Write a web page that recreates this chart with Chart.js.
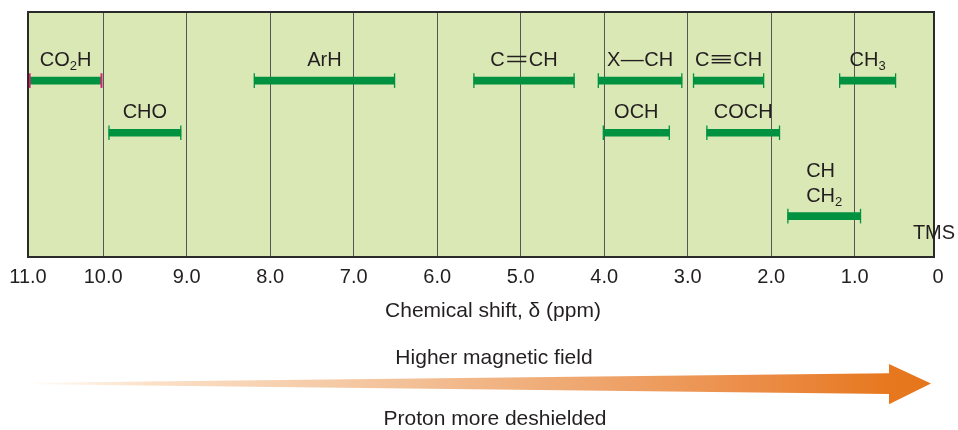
<!DOCTYPE html>
<html>
<head>
<meta charset="utf-8">
<title>Proton chemical shift ranges</title>
<script src="https://cdn.jsdelivr.net/npm/chart.js@4.4.1/dist/chart.umd.min.js"></script>
<style>
  html, body { margin: 0; padding: 0; background: #fff; }
  #wrap { width: 958px; height: 430px; position: relative; }
</style>
</head>
<body>
<div id="wrap"><canvas id="myChart"></canvas></div>
<script>
// proton groups and their shift ranges (ppm), "_" marks a subscript digit
const groups = ['CO_2H', 'CHO', 'ArH', 'C=CH', 'X—CH', 'C≡CH', 'CH_3', 'OCH', 'COCH', 'CH\nCH_2'];
const shiftFrom = [10.88, 9.93, 8.19, 5.56, 4.07, 2.93, 1.18, 4.01, 2.77, 1.80];
const shiftTo = [10.02, 9.07, 6.51, 4.36, 3.07, 2.09, 0.51, 3.22, 1.90, 0.93];
// vertical level of each bar (0 = top of plot, 10 = bottom)
const rowLevel = [2.8, 4.93, 2.8, 2.8, 2.8, 2.8, 2.8, 4.93, 4.93, 8.33];

// x axis, listed left to right
const axisMin = 0.05;
const axisMax = 10.9;
const tickValues = [10.9, 10, 9, 8, 7, 6, 5, 4, 3, 2, 1, 0];
const tickLabels = ['11.0', '10.0', '9.0', '8.0', '7.0', '6.0', '5.0', '4.0', '3.0', '2.0', '1.0', '0'];

const axisTitle = 'Chemical shift, δ (ppm)';
const fieldText = 'Higher magnetic field';
const shieldText = 'Proton more deshielded';
const refLabel = 'TMS';

const FAMILY = '"Liberation Sans", Arial, Helvetica, sans-serif';
const TEXT = '#231f20';
const BAR_GREEN = '#009241';
const CAP_PINK = '#d8216f';
const PLOT_BG = '#dae8b5';
const BONDS = ['=', '—', '≡'];

// split a formula into plain / subscript / bond pieces
function pieces(line) {
  const out = [];
  for (let i = 0; i < line.length; i++) {
    const ch = line[i];
    if (ch === '_') out.push({ t: line[++i], kind: 'sub' });
    else if (BONDS.includes(ch)) out.push({ t: ch, kind: 'bond' });
    else out.push({ t: ch, kind: 'plain' });
  }
  return out;
}

const mainFont = '20px ' + FAMILY;
const subFont = '13px ' + FAMILY;
const bondSlot = 24;
const bondLen = 23;

function pieceWidth(ctx, p) {
  if (p.kind === 'bond') return bondSlot;
  ctx.font = p.kind === 'sub' ? subFont : mainFont;
  return ctx.measureText(p.t).width;
}

function paintLine(ctx, line, left, baseline) {
  let x = left;
  pieces(line).forEach(p => {
    const w = pieceWidth(ctx, p);
    if (p.kind === 'bond') {
      ctx.font = mainFont;
      const gw = ctx.measureText(p.t).width;
      ctx.save();
      ctx.translate(x + (bondSlot - bondLen) / 2, baseline);
      ctx.scale(bondLen / gw, 1);
      ctx.fillText(p.t, 0, 0);
      ctx.restore();
    } else {
      ctx.font = p.kind === 'sub' ? subFont : mainFont;
      ctx.fillText(p.t, x, p.kind === 'sub' ? baseline + 4 : baseline);
    }
    x += w;
  });
}

function drawFormula(ctx, text, cx, baseline) {
  const lines = text.split('\n');
  const widths = lines.map(l => pieces(l).reduce((s, p) => s + pieceWidth(ctx, p), 0));
  const left = cx - Math.max(...widths) / 2;
  lines.forEach((line, k) => {
    paintLine(ctx, line, left, baseline - (lines.length - 1 - k) * 25);
  });
}

// background, frame, labels and the arrow underneath
const decorations = {
  id: 'decorations',
  beforeDraw(chart) {
    const { ctx, chartArea: a } = chart;
    ctx.save();
    ctx.fillStyle = PLOT_BG;
    ctx.fillRect(a.left, a.top, a.right - a.left, a.bottom - a.top);
    ctx.restore();
  },
  afterDatasetsDraw(chart) {
    const { ctx, chartArea: a } = chart;
    const xs = chart.scales.x;
    const ys = chart.scales.y;
    ctx.save();
    ctx.strokeStyle = '#2a2a2a';
    ctx.lineWidth = 2;
    ctx.strokeRect(a.left, a.top, a.right - a.left, a.bottom - a.top);

    ctx.fillStyle = TEXT;
    ctx.textAlign = 'left';
    ctx.textBaseline = 'alphabetic';
    groups.forEach((g, i) => {
      const cx = (xs.getPixelForValue(shiftFrom[i]) + xs.getPixelForValue(shiftTo[i])) / 2;
      const cy = ys.getPixelForValue(rowLevel[i]);
      drawFormula(ctx, g, cx, cy - 14.5);
    });

    ctx.font = mainFont;
    ctx.textAlign = 'center';
    ctx.fillText(refLabel, xs.getPixelForValue(axisMin), 238.5);
    ctx.restore();
  },
  afterDraw(chart) {
    const { ctx } = chart;
    ctx.save();
    ctx.fillStyle = TEXT;
    ctx.textAlign = 'center';
    ctx.textBaseline = 'alphabetic';
    ctx.font = '21px ' + FAMILY;
    ctx.fillText(axisTitle, 493, 316.5);
    ctx.fillText(fieldText, 494, 364);
    ctx.fillText(shieldText, 495, 425);

    // tapered arrow, pale on the left, orange at the head
    const grad = ctx.createLinearGradient(35, 0, 931, 0);
    grad.addColorStop(0, '#fffcf7');
    grad.addColorStop(0.13, '#fbe0c6');
    grad.addColorStop(0.37, '#f4c6a0');
    grad.addColorStop(0.65, '#eea268');
    grad.addColorStop(0.81, '#eb8c46');
    grad.addColorStop(0.95, '#e7781f');
    grad.addColorStop(1, '#e6761c');
    ctx.fillStyle = grad;
    ctx.beginPath();
    ctx.moveTo(35, 382.8);
    ctx.lineTo(889, 373.3);
    ctx.lineTo(889, 364);
    ctx.lineTo(931, 383.5);
    ctx.lineTo(889, 404.3);
    ctx.lineTo(889, 394);
    ctx.lineTo(35, 384.2);
    ctx.closePath();
    ctx.fill();
    ctx.restore();
  }
};

const barData = groups.map((g, i) => ({ x: [shiftFrom[i], shiftTo[i]], y: rowLevel[i] }));
const capData = [];
groups.forEach((g, i) => {
  capData.push({ x: shiftFrom[i], y: rowLevel[i], g: i });
  capData.push({ x: shiftTo[i], y: rowLevel[i], g: i });
});
const isAcid = c => c.raw && groups[c.raw.g] === 'CO_2H';

const ctx = document.getElementById('myChart');
const myChart = new Chart(ctx, {
  type: 'scatter',
  data: {
    datasets: [
      {
        type: 'scatter',
        data: capData,
        pointStyle: 'line',
        pointRotation: 90,
        pointRadius: 7.3,
        pointHoverRadius: 7.3,
        pointBorderWidth: c => (isAcid(c) ? 2 : 1.3),
        pointBorderColor: c => (isAcid(c) ? CAP_PINK : BAR_GREEN),
        pointBackgroundColor: c => (isAcid(c) ? CAP_PINK : BAR_GREEN),
        showLine: false
      },
      {
        type: 'bar',
        indexAxis: 'y',
        data: barData,
        backgroundColor: BAR_GREEN,
        borderWidth: 0,
        barThickness: 7
      }
    ]
  },
  options: {
    responsive: true,
    maintainAspectRatio: false,
    animation: false,
    events: [],
    layout: { padding: { left: 28, right: 24, top: 12, bottom: 0 } },
    plugins: { legend: { display: false }, tooltip: { enabled: false } },
    scales: {
      x: {
        type: 'linear',
        reverse: true,
        min: axisMin,
        max: axisMax,
        offset: false,
        afterBuildTicks: scale => {
          scale.ticks = tickValues.map(v => ({ value: v }));
        },
        afterFit: scale => {
          scale.height = 173;
        },
        grid: {
          color: c => (c.tick && c.tick.value === 0 ? 'rgba(0,0,0,0)' : '#565656'),
          lineWidth: 1,
          drawTicks: false,
          offset: false
        },
        border: { display: false },
        ticks: {
          autoSkip: false,
          maxRotation: 0,
          padding: 8,
          color: TEXT,
          font: { family: FAMILY, size: 20 },
          callback: (v, i) => tickLabels[i]
        }
      },
      y: {
        type: 'linear',
        display: false,
        reverse: true,
        min: 0,
        max: 10,
        offset: false
      }
    }
  },
  plugins: [decorations]
});
</script>
</body>
</html>
